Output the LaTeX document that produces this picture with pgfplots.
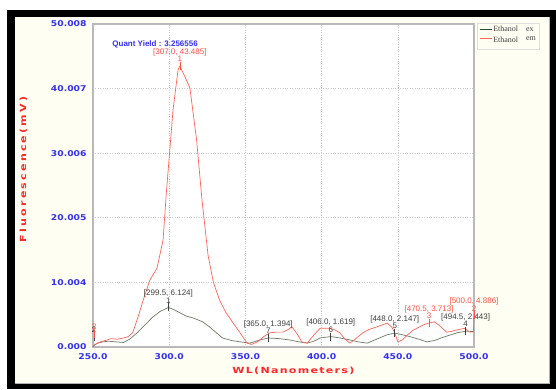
\documentclass[border=0pt]{standalone}
\usepackage{pgfplots}
\pgfplotsset{compat=1.18}
\usepackage{fontspec}
\setmainfont{Liberation Sans}
\newfontfamily\tickfont{DejaVu Sans}[FakeStretch=1.15]
\newfontfamily\xlabfont{DejaVu Sans}[FakeStretch=1.3,LetterSpace=15]
\newfontfamily\ylabfont{DejaVu Sans}[FakeStretch=1.3,LetterSpace=26]
\newfontfamily\legfont{Liberation Serif}
\definecolor{cream}{RGB}{255,254,242}
\definecolor{tickblue}{RGB}{50,50,240}
\definecolor{labred}{RGB}{255,40,40}
\definecolor{emred}{RGB}{255,100,85}
\definecolor{annored}{RGB}{255,80,64}
\definecolor{exgray}{RGB}{118,128,112}
\definecolor{annogray}{RGB}{60,65,60}
\definecolor{leggreen}{RGB}{50,80,50}
\begin{document}
\begin{tikzpicture}[x=1pt,y=1pt]
\fill[white] (0,0) rectangle (556,389);
\fill[black] (7,0) rectangle (556,379);
\fill[cream] (15,5) rectangle (550,372);
\draw[gray!60, line width=0.8pt] (15,6) -- (549.5,6) -- (549.5,372);
\begin{axis}[
  at={(93pt,42pt)}, anchor=south west,
  scale only axis, width=381pt, height=323pt,
  xmin=250, xmax=500, ymin=0, ymax=50.008,
  clip=false,
  axis background/.style={fill=white},
  axis line style={draw=gray!55, line width=1.1pt},
  grid=major,
  major grid style={dotted, gray!40, line width=0.6pt},
  major tick length=0pt,
  xtick={250,300,350,400,450,500},
  xticklabels={250.0,300.0,350.0,400.0,450.0,500.0},
  ytick={0,10.004,20.005,30.006,40.007,50.008},
  yticklabels={0.000,10.004,20.005,30.006,40.007,50.008},
  ticklabel style={font=\tickfont\bfseries\fontsize{8}{9}\selectfont, text=tickblue},
  xticklabel style={yshift=-3pt},
  yticklabel style={xshift=-3pt},
  xlabel={WL(Nanometers)},
  ylabel={Fluorescence(mV)},
  every axis x label/.style={at={(axis description cs:0.526,0)}, yshift=-24pt, anchor=center,
     font=\xlabfont\bfseries\fontsize{8.5}{10}\selectfont, text=labred},
  every axis y label/.style={at={(axis description cs:0,0.55)}, xshift=-69.5pt, rotate=90, anchor=center,
     font=\ylabfont\bfseries\fontsize{8.5}{10}\selectfont, text=labred},
  legend style={at={(axis description cs:1.008,1.003)}, anchor=north west,
     draw=gray!25, fill=cream, inner xsep=2pt, inner ysep=2pt,
     font=\legfont\fontsize{8}{9}\selectfont, text=black!75, row sep=1pt,
     nodes={inner sep=1pt}},
  legend cell align=left,
  legend image code/.code={\draw[#1, line width=1pt] (0pt,0pt) -- (12pt,0pt);},
]
% excitation
\addplot[exgray, line width=0.75pt, forget plot] coordinates {
(250,0.0) (251,0.3) (253,0.6) (256.6,0.8) (260,0.9) (265,0.8) (270,0.7) (274,1.2)
(279,2.2) (284,3.4) (289,4.6) (294,5.5) (299.5,6.124) (303,5.8) (307,5.3) (311,4.8)
(315.6,4.5) (322,3.9) (326,3.2) (329,2.6) (335,1.4) (341,1.0) (346.5,0.8) (353,0.6)
(359.6,1.1) (365,1.394) (372,1.3) (379,1.1) (385,0.8) (390.5,0.6) (395,0.9) (399,1.4)
(406,1.619) (412,1.4) (418.6,1.1) (424,0.8) (430,0.6) (438,1.4) (443,1.9) (448,2.147)
(453,1.9) (458,1.6) (464,1.2) (469,0.8) (474,1.0) (479.6,1.5) (485,1.9) (488.8,2.2)
(494.5,2.443) (500,2.4)
};
% emission
\addplot[emred, line width=0.7pt, forget plot] coordinates {
(250,0.2) (252,0.5) (255,0.8) (258,1.0) (262,1.3) (266,1.2) (270,1.4) (273,1.6)
(276,2.2) (279.5,4.6) (283,7.3) (287.4,10.4) (292,12.2) (296,16.6) (298,23.5)
(302.5,36.7) (305.8,42.9) (307,43.485) (310.4,41.8) (313.6,40.1) (318,32) (321.5,22.8)
(325.5,14.2) (329,10) (333,7.3) (337,5.4) (342,3.7) (346.5,2.2) (351,0.6) (354,0.4)
(358,0.8) (362,1.6) (366,2.2) (370,2.3) (374.6,2.3) (378,2.7) (380.6,3.1) (384,2.0)
(387,0.8) (390.5,0.6) (394,1.6) (399,2.9) (405.5,2.9) (409,2.6) (412,2.2) (415,1.3)
(418.6,0.6) (422,1.2) (427,2.2) (431,2.7) (436,3.1) (443,3.7) (446,3.1) (448,2.2)
(450,0.8) (453,1.1) (456,1.8) (460,2.6) (466.5,3.4) (470.5,3.713) (474,3.9) (477,3.4)
(482,2.3) (485,2.4) (488,2.6) (494,2.9) (497,2.3) (499.6,2.3) (500,4.886)
};
% peak markers, excitation
\addplot[only marks, mark=|, mark size=4pt, mark options={draw=annogray, line width=0.7pt}, forget plot,
  point meta=explicit symbolic, nodes near coords,
  nodes near coords style={font=\fontsize{8}{7.5}\selectfont, text=annogray, align=center, anchor=south, inner sep=0pt, yshift=4pt}]
coordinates {
(299.5,6.124) [{[299.5, 6.124]\\1}]
(365,1.394) [{[365.0, 1.394]\\7}]
(406,1.619) [{[406.0, 1.619]\\6}]
(448,2.147) [{[448.0, 2.147]\\5}]
(494.5,2.443) [{[494.5, 2.443]\\4}]
(250.6,1.5) [{2}]
};
% peak markers, emission
\addplot[only marks, mark=|, mark size=4pt, mark options={draw=annored, line width=0.7pt}, forget plot,
  point meta=explicit symbolic, nodes near coords,
  nodes near coords style={font=\fontsize{8}{7.5}\selectfont, text=annored, align=center, anchor=south, inner sep=0pt, yshift=4pt}]
coordinates {
(307,43.485) [{[307.0, 43.485]\\1}]
(470.5,3.713) [{[470.5, 3.713]\\3}]
(500,4.886) [{[500.0, 4.886]\\2}]
(250.8,2.0) [{2}]
};
\node[font=\bfseries\fontsize{8}{9}\selectfont, text=tickblue] at (axis description cs:0.163,0.938) {Quant Yield : 3.256556};
\addlegendimage{leggreen}
\addlegendentry{Ethanol\hspace{8pt}ex}
\addlegendimage{emred}
\addlegendentry{\raisebox{-2.5pt}{Ethanol}\hspace{8pt}em}
\addlegendimage{empty legend}
\addlegendentry{}
\end{axis}
\pgfresetboundingbox
\path[use as bounding box] (0,0) rectangle (556,389);
\end{tikzpicture}
\end{document}
